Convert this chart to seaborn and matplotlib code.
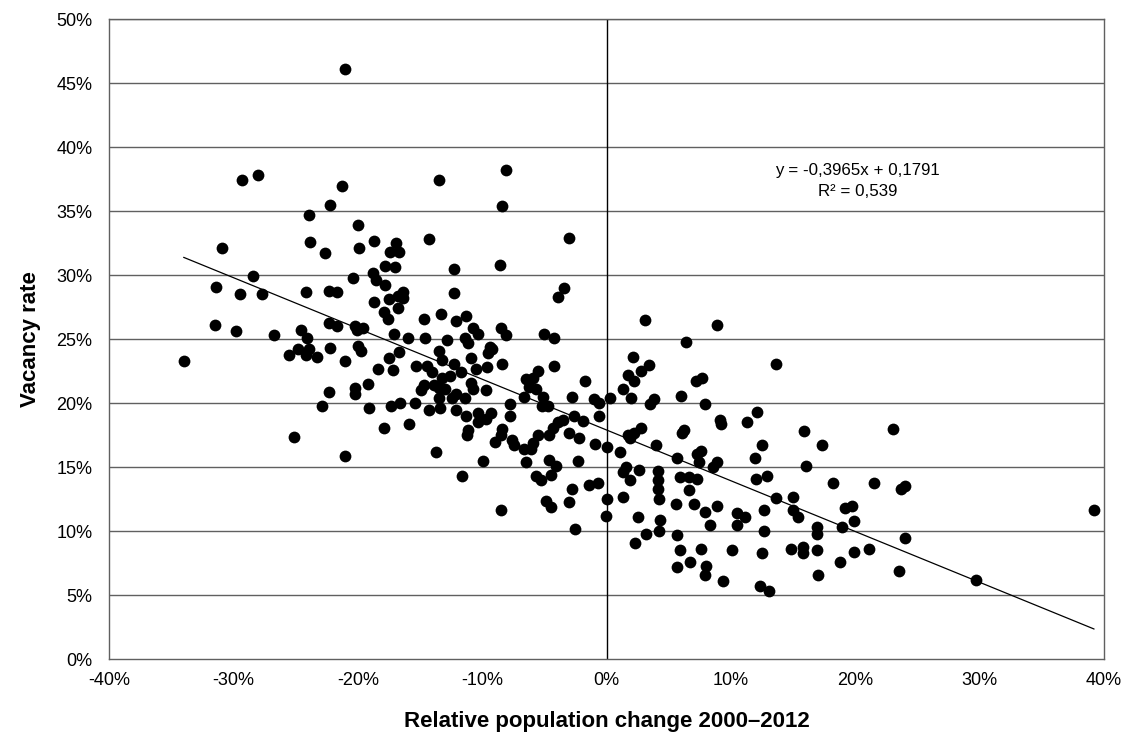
import numpy as np
import pandas as pd
import matplotlib
matplotlib.use("Agg")
import matplotlib.pyplot as plt
from matplotlib.ticker import PercentFormatter, MultipleLocator
import seaborn as sns

# Relative population change 2000-2012 (%) and vacancy rate (%) per municipality
pop_change = [
    -21.0, -29.3, -28.0, -21.3, -22.2, -23.9, -20.0, -18.7, -30.9, -23.8, -22.6, -19.9, -18.8, -18.5, -20.4,
    -28.4, -31.4, -29.5, -27.7, -24.2, -22.3, -21.7, -18.7, -31.5, -29.8, -26.7, -24.6, -24.1, -22.3, -21.7,
    -20.2, -19.6, -20.1,
    -34.0, -25.5, -24.8, -24.2, -23.9, -23.3, -22.2, -21.0, -20.0, -19.7, -18.4, -22.3, -20.2, -20.2, -19.2,
    -22.9, -19.1, -25.1, -21.0,
    -13.5, -8.1, -8.4, -16.9, -17.4, -16.7, -14.3, -3.0, -17.8, -17.0, -12.3, -8.6, -17.8, -16.4, -16.8,
    -16.4, -17.5, -12.3, -3.4, -3.9, -16.8, -17.9, -17.6, -14.7, -13.3, -12.1, -11.3, -10.7, -10.3, -8.5,
    -8.1, -5.0, -4.2, -17.1, -16.0, -14.6, -12.8, -11.4,
    -11.1, -16.7, -17.5, -17.2, -13.5, -13.2, -12.3, -15.3, -14.4, -14.0, -11.7, -10.9, -10.5, -9.6, -9.4,
    -9.2, -9.5, -8.4, -13.2, -12.6, -10.9, -10.7, -9.7, -14.7, -14.9, -13.9, -13.5, -13.0, -12.1, -12.4,
    -13.5, -11.4, -15.4, -16.6, -17.3, -14.3, -13.4, -12.1, -17.9, -15.9, -11.3, -10.3, -9.3, -9.7, -10.3,
    -11.1, -11.2, -7.8, -7.8, -8.4, -8.5, -9.0, -7.6, -7.4, -6.5, -5.9, -5.5, -6.2, -5.7, -6.6,
    -5.1, -5.2, -4.7, -4.2, -1.7, -2.8, -1.0, -0.6, -0.6, 0.3, -2.6, -1.9, -3.5, -3.9, -4.3,
    -4.6, -5.5, -3.0, -2.2, -5.9, -6.1, -6.6, -0.9, 0.05, -13.7, -9.9, -6.5, -4.6, -4.1, -2.3,
    -11.6, -5.7, -5.3, -4.5, -2.8, -1.4, -0.7, -3.0, -4.9, -4.5, -8.5, 0.05, -0.05, -2.5,
    3.1, 8.9, 6.4, 13.6, 2.1, 3.4, 1.7, 2.8, 2.2, 7.2, 7.7, 1.3, 2.0, 3.8, 3.5,
    6.0, 7.9, 9.1, 9.2, 11.3, 12.1, 15.9, 17.3, 1.7, 2.2, 2.8, 1.9, 6.1, 6.2, 4.0,
    1.1, 5.7, 7.3, 7.6, 7.4, 12.5, 11.9, 16.0, 18.2, 8.9, 8.6, 1.6, 1.3, 2.6, 1.9,
    4.1, 4.1, 4.1, 4.2, 5.9, 6.6, 7.3, 12.0, 12.9, 6.6, 1.3, 5.6, 7.0, 7.9, 8.9,
    13.6, 15.0, 15.0, 15.4, 12.7, 10.5, 11.1, 19.2, 19.7, 2.5, 4.3,
    4.2, 3.2, 2.3, 5.7, 5.9, 7.6, 5.7, 6.7, 8.0, 7.9, 9.4, 8.3, 10.5, 10.1, 12.7,
    12.5, 12.3, 13.1, 14.8, 15.8, 15.8, 16.9, 16.9, 16.9, 17.0, 18.9, 18.8, 19.9, 19.9,
    23.0, 21.5, 23.7, 24.0, 39.2, 24.0, 21.1, 23.5, 29.7,
]
vacancy = [
    46.1, 37.4, 37.8, 37.0, 35.5, 34.7, 33.9, 32.7, 32.1, 32.6, 31.7, 32.1, 30.2, 29.6, 29.8,
    29.9, 29.1, 28.5, 28.5, 28.7, 28.8, 28.7, 27.9, 26.1, 25.6, 25.3, 25.7, 25.1, 26.3, 26.0,
    26.0, 25.9, 25.7,
    23.3, 23.8, 24.2, 23.8, 24.2, 23.6, 24.3, 23.3, 24.5, 24.1, 22.7, 20.9, 21.2, 20.7, 21.5,
    19.8, 19.6, 17.4, 15.9,
    37.4, 38.2, 35.4, 32.5, 31.8, 31.8, 32.8, 32.9, 30.7, 30.6, 30.5, 30.8, 29.2, 28.7, 28.4,
    28.2, 28.1, 28.6, 29.0, 28.3, 27.4, 27.1, 26.6, 26.6, 27.0, 26.4, 26.8, 25.9, 25.4, 25.9,
    25.3, 25.4, 25.1, 25.4, 25.1, 25.1, 24.9, 25.1,
    24.7, 24.0, 23.5, 22.6, 24.1, 23.4, 23.1, 22.9, 22.9, 22.4, 22.4, 23.5, 22.7, 22.8, 24.4,
    24.2, 23.9, 23.1, 22.0, 22.1, 21.6, 21.1, 21.0, 21.4, 21.0, 21.4, 21.2, 21.1, 20.7, 20.4,
    20.4, 20.4, 20.0, 20.0, 19.8, 19.5, 19.6, 19.5, 18.1, 18.4, 19.0, 19.2, 19.2, 18.8, 18.5,
    17.9, 17.5, 19.9, 19.0, 18.0, 17.5, 17.0, 17.1, 16.7, 21.9, 22.0, 22.5, 21.3, 21.1, 20.5,
    20.5, 19.8, 19.8, 22.9, 21.7, 20.5, 20.3, 20.0, 19.0, 20.4, 19.0, 18.6, 18.7, 18.5, 18.1,
    17.5, 17.5, 17.7, 17.3, 16.9, 16.4, 16.4, 16.8, 16.6, 16.2, 15.5, 15.4, 15.6, 15.1, 15.5,
    14.3, 14.3, 14.0, 14.4, 13.3, 13.6, 13.8, 12.3, 12.4, 11.9, 11.7, 12.5, 11.2, 10.2,
    26.5, 26.1, 24.8, 23.1, 23.6, 23.0, 22.2, 22.5, 21.7, 21.7, 22.0, 21.1, 20.4, 20.3, 19.9,
    20.6, 19.9, 18.7, 18.4, 18.5, 19.3, 17.8, 16.7, 17.5, 17.7, 18.1, 17.3, 17.7, 17.9, 16.7,
    16.2, 15.7, 16.0, 16.3, 15.4, 16.7, 15.7, 15.1, 13.8, 15.4, 15.0, 15.0, 14.6, 14.8, 14.0,
    14.7, 14.0, 13.3, 12.5, 14.2, 14.2, 14.1, 14.1, 14.3, 13.2, 12.7, 12.1, 12.1, 11.5, 12.0,
    12.6, 12.7, 11.7, 11.1, 11.7, 11.4, 11.1, 11.8, 12.0, 11.1, 10.9,
    10.0, 9.8, 9.1, 9.7, 8.5, 8.6, 7.2, 7.6, 7.3, 6.6, 6.1, 10.5, 10.5, 8.5, 10.0,
    8.3, 5.7, 5.3, 8.6, 8.8, 8.3, 10.3, 9.8, 8.5, 6.6, 10.3, 7.6, 10.8, 8.4,
    18.0, 13.8, 13.3, 13.5, 11.7, 9.5, 8.6, 6.9, 6.2,
]

# Linear trend as reported for the data set
trend_slope = -0.3965
trend_intercept = 0.1791
trend_r2 = 0.539

x_ticks = [-0.4, -0.3, -0.2, -0.1, 0.0, 0.1, 0.2, 0.3, 0.4]

df = pd.DataFrame({
    "change": np.array(pop_change) / 100.0,
    "vacancy": np.array(vacancy) / 100.0,
})

sns.set_theme(style="white")
plt.rcParams["font.family"] = ["Liberation Sans", "DejaVu Sans"]
plt.rcParams["axes.unicode_minus"] = False
plt.rcParams["text.color"] = "black"
plt.rcParams["axes.labelcolor"] = "black"

fig = plt.figure(figsize=(11.26, 7.40), dpi=100)
ax = fig.add_axes([0.0968, 0.109, 0.8837, 0.8653])

grid_color = "#606060"
ax.set_xlim(-0.4, 0.4)
ax.set_ylim(0.0, 0.5)
ax.yaxis.set_major_locator(MultipleLocator(0.05))
ax.set_xticks(x_ticks)
for yv in np.arange(0.05, 0.5001, 0.05):
    ax.axhline(yv, color=grid_color, lw=1.0, zorder=0)
ax.axvline(0.0, color="black", lw=1.0, zorder=1)

sns.scatterplot(data=df, x="change", y="vacancy", ax=ax, color="black",
                s=72, linewidth=0, zorder=3, legend=False)

# Trend line across the observed range of population change
x_line = np.array([df["change"].min(), df["change"].max()])
trend = pd.DataFrame({"change": x_line, "vacancy": trend_intercept + trend_slope * x_line})
sns.lineplot(data=trend, x="change", y="vacancy", ax=ax, color="black", lw=0.9, zorder=4)

eq_text = (f"y = {trend_slope:.4f}x + {trend_intercept:.4f}".replace(".", ",")
           + "\n" + f"R² = {trend_r2:.3f}".replace(".", ","))
ax.text(0.202, 0.3735, eq_text, ha="center", va="center", fontsize=12.2,
        linespacing=1.55, color="black", zorder=5)

ax.xaxis.set_major_formatter(PercentFormatter(1.0, decimals=0))
ax.yaxis.set_major_formatter(PercentFormatter(1.0, decimals=0))
ax.tick_params(axis="x", length=0, pad=9, labelsize=13, colors="black")
ax.tick_params(axis="y", length=0, pad=12, labelsize=13, colors="black")

for side in ["left", "right", "top", "bottom"]:
    ax.spines[side].set_visible(True)
    ax.spines[side].set_color(grid_color)
    ax.spines[side].set_linewidth(1.0)

ax.set_xlabel("Relative population change 2000–2012", fontsize=16, fontweight="bold",
              labelpad=16, color="black")
ax.set_ylabel("Vacancy rate", fontsize=16, fontweight="bold", labelpad=11, color="black")

fig.savefig("out.png", dpi=100, facecolor="white")
